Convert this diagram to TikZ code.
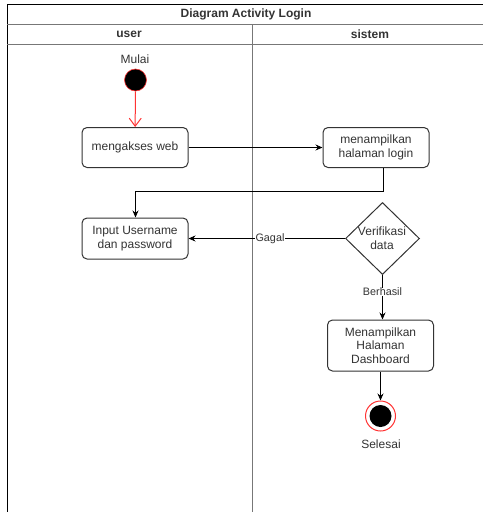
\documentclass[tikz,border=0pt]{standalone}
\usepackage{fontspec}
\setmainfont{Liberation Sans}
\usetikzlibrary{shapes.geometric,arrows.meta}
\definecolor{txt}{HTML}{333333}
\definecolor{lanegray}{HTML}{777777}
\definecolor{startred}{HTML}{FF3333}
\begin{document}
\begin{tikzpicture}[x=1pt,y=-1pt,
  actbox/.style={draw=txt,rounded corners=5pt,line width=1pt,minimum width=106pt,minimum height=40pt,align=center,font=\fontsize{12}{13.5}\selectfont,text=txt,inner sep=1pt},
  flow/.style={draw=black,line width=1pt,-{Stealth[length=7pt,width=6pt]}},
  lbl/.style={font=\fontsize{10.8}{12}\selectfont,text=txt,fill=white,inner sep=0.5pt},
  hdr/.style={font=\bfseries\fontsize{12}{13}\selectfont,text=txt}]
\useasboundingbox (0,0) rectangle (483,512);
% frame
\draw[line width=1pt,black] (7,512) -- (7,4.5) -- (483,4.5);
\draw[line width=1pt,lanegray] (7,24.5) -- (483,24.5);
\draw[line width=1pt,lanegray] (7,44.5) -- (483,44.5);
\draw[line width=1pt,lanegray] (252.5,24.5) -- (252.5,512);
\node[hdr] (title) at (246,14.5) {Diagram Activity Login};
\node[hdr] (luser) at (129,34.5) {user};
\node[hdr] (lsys) at (370,34.5) {sistem};
% start
\node[font=\fontsize{12}{13}\selectfont,text=txt] (mulai) at (135,59) {Mulai};
\node[circle,fill=black,draw=startred,line width=0.6pt,minimum size=22pt,inner sep=0pt] (start) at (135.5,80) {};
\node[actbox] (web) at (135,147.5) {mengakses web};
\node[actbox] (login) at (376,147.5) {menampilkan\\halaman login};
\node[actbox,minimum height=41pt] (input) at (135,238.5) {Input Username\\dan password};
\node[diamond,draw=txt,line width=1pt,minimum width=74pt,minimum height=72pt,aspect=1,inner sep=0pt] (verif) at (382.5,238.5) {};
\node[align=center,font=\fontsize{12}{13.5}\selectfont,text=txt] (veriftext) at (382,238) {Verifikasi\\data};
\node[actbox,minimum height=51pt] (dash) at (380.5,345.5) {Menampilkan\\Halaman\\Dashboard};
\node[circle,draw=startred,line width=1pt,fill=white,minimum size=30pt,inner sep=0pt] (end) at (380.5,416) {};
\node[circle,fill=black,minimum size=22pt,inner sep=0pt] (endin) at (end) {};
\node[font=\fontsize{12}{13}\selectfont,text=txt] (selesai) at (381,444) {Selesai};
% connectors
\draw[draw=startred,line width=1pt,-{Straight Barb[length=8pt,width=12pt]}] (start) -- (web);
\draw[flow] (web) -- (login);
\coordinate (c1) at (383.5,191.5);
\coordinate (c2) at (135.5,191.5);
\draw[flow] (login.south -| c1) -- (c1) -- (c2) -- (c2 |- input.north);
\draw[flow] (verif.west) -- (input.east);
\node[lbl] (gagal) at (270,238.5) {Gagal};
\draw[flow] (verif.south) -- (verif |- dash.north);
\node[lbl] (berhasil) at (382.5,292) {Berhasil};
\draw[flow] (dash.south -| end) -- (end);
\end{tikzpicture}
\end{document}
